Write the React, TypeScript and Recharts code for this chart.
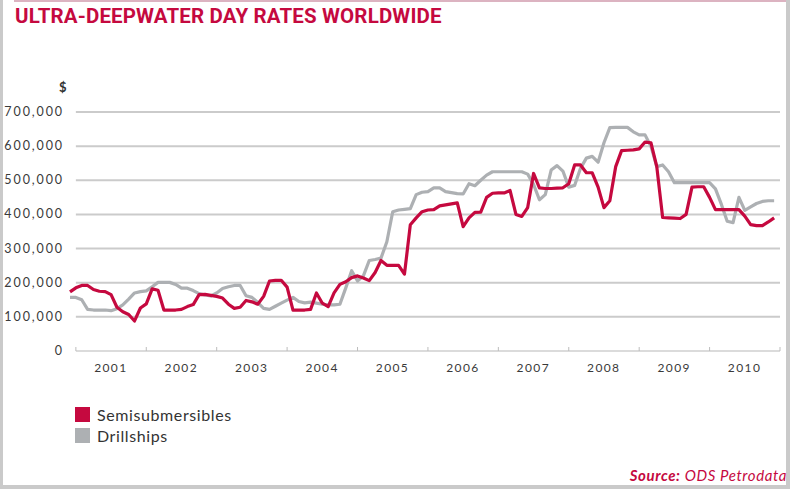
import { LineChart, Line, XAxis, YAxis, ReferenceLine } from 'recharts';

// Monthly day rates in US$ thousands, December 2000 through December 2010
const semisubmersibles = [
  173, 185, 192, 192, 180, 175, 174, 165, 128, 115, 107, 88,
  126, 138, 182, 178, 120, 120, 120, 122, 130, 136, 165, 166,
  163, 160, 155, 137, 125, 128, 148, 144, 137, 160, 205, 207,
  207, 187, 120, 120, 120, 122, 170, 140, 130, 170, 195, 203,
  215, 220, 214, 206, 230, 265, 251, 251, 251, 225, 370, 390,
  408, 413, 414, 425, 428, 431, 434, 364, 390, 406, 407, 450,
  462, 463, 463, 470, 400, 394, 420, 520, 478, 476, 476, 477,
  478, 490, 545, 545, 522, 522, 480, 420, 440, 540, 587, 588,
  589, 592, 612, 610, 540, 391, 390, 389, 388, 400, 480, 481,
  481, 450, 414, 414, 414, 414, 414, 395, 370, 367, 367, 378,
  390,
];

const drillships = [
  157, 157, 150, 122, 120, 120, 120, 118, 124, 135, 152, 170,
  174, 176, 188, 201, 201, 201, 195, 184, 184, 177, 168, 164,
  161, 170, 183, 188, 192, 192, 162, 157, 142, 125, 122, 131,
  140, 149, 157, 145, 141, 143, 140, 137, 135, 135, 137, 185,
  235, 205, 220, 265, 268, 272, 320, 408, 413, 415, 417, 458,
  465, 467, 478, 478, 467, 464, 461, 460, 490, 484, 500, 515,
  525, 525, 525, 525, 525, 525, 518, 488, 443, 458, 530, 543,
  527, 480, 485, 535, 565, 570, 553, 610, 654, 655, 655, 655,
  642, 633, 633, 600, 540, 545, 525, 493, 493, 493, 493, 493,
  493, 493, 475, 430, 380, 376, 450, 412, 422, 432, 438, 440,
  440,
];

const years = [2001, 2002, 2003, 2004, 2005, 2006, 2007, 2008, 2009, 2010, 2011];
const rateTicks = [0, 100000, 200000, 300000, 400000, 500000, 600000, 700000];

const RED = '#c5093f';
const GREY = '#adb0b3';
const FIRST_MONTH = 2000 + 11 / 12;

const data = semisubmersibles.map((s, i) => ({
  t: FIRST_MONTH + i / 12,
  semi: s * 1000,
  drill: drillships[i] * 1000,
}));

const YearTick = (props: any) => {
  const { x, y, payload } = props;
  const half = 35;
  return (
    <g>
      <line x1={x} x2={x} y1={y - 4} y2={y} stroke="#bdbdbd" strokeWidth={1} />
      {payload.value < 2011 && (
        <text x={x + half} y={y + 21} textAnchor="middle" fontSize={12} fill="#3a3a3a"
          style={{ letterSpacing: 1.4 }}>
          {payload.value}
        </text>
      )}
    </g>
  );
};

const RateTick = (props: any) => {
  const { y, payload } = props;
  return (
    <text x={64} y={y + 4} textAnchor="end" fontSize={12.5} fill="#3a3a3a" style={{ letterSpacing: 1.9 }}>
      {payload.value.toLocaleString('en-US')}
    </text>
  );
};

export default function App() {
  return (
    <div style={{
      position: 'absolute', left: 0, top: 0, width: 790, height: 489,
      background: '#fff', overflow: 'hidden', fontFamily: 'Lato, "Open Sans", sans-serif',
    }}>
      {/* frame */}
      <div style={{ position: 'absolute', left: 14, right: 0, top: 0, height: 2, background: '#dcb3c1' }} />
      <div style={{ position: 'absolute', left: 0, top: 0, width: 3, height: 489, background: '#cacaca' }} />
      <div style={{ position: 'absolute', left: 786, top: 0, width: 4, height: 489, background: '#cacaca' }} />
      <div style={{ position: 'absolute', left: 0, top: 485, width: 790, height: 4, background: '#cacaca' }} />

      <div style={{
        position: 'absolute', left: 15, top: 4, fontFamily: 'Roboto, sans-serif', fontWeight: 700,
        fontSize: 20.5, color: RED, whiteSpace: 'nowrap', letterSpacing: 0.15,
      }}>
        ULTRA-DEEPWATER DAY RATES WORLDWIDE
      </div>

      <div style={{ position: 'absolute', left: 59, top: 79, fontSize: 13, fontWeight: 700, color: '#333' }}>$</div>

      <div style={{ position: 'absolute', left: 0, top: 0 }}>
        <LineChart width={790} height={489} data={data} margin={{ top: 112, right: 10, bottom: 108, left: 0 }}>
          <XAxis
            dataKey="t"
            type="number"
            domain={[FIRST_MONTH, 2011]}
            ticks={years}
            tick={<YearTick />}
            axisLine={false}
            tickLine={false}
            tickSize={0}
            tickMargin={0}
            height={30}
            interval={0}
          />
          <YAxis
            domain={[0, 700000]}
            ticks={rateTicks}
            tick={<RateTick />}
            axisLine={false}
            tickLine={false}
            width={70}
            interval={0}
          />
          {rateTicks.map((v) => (
            <ReferenceLine
              key={v}
              segment={[{ x: 2001, y: v }, { x: 2011, y: v }]}
              stroke={v === 0 ? '#cfcfcf' : '#cbcbcb'}
              strokeWidth={v === 0 ? 1.5 : 2}
            />
          ))}
          <Line
            type="linear"
            dataKey="drill"
            name="Drillships"
            stroke={GREY}
            strokeWidth={3.2}
            dot={false}
            strokeLinejoin="round"
            isAnimationActive={false}
          />
          <Line
            type="linear"
            dataKey="semi"
            name="Semisubmersibles"
            stroke={RED}
            strokeWidth={3.2}
            dot={false}
            strokeLinejoin="round"
            isAnimationActive={false}
          />
        </LineChart>
      </div>

      {/* legend */}
      {[{ color: RED, label: 'Semisubmersibles', top: 407 }, { color: GREY, label: 'Drillships', top: 428 }].map((it) => (
        <div key={it.label} style={{ position: 'absolute', left: 75, top: it.top, display: 'flex', alignItems: 'center' }}>
          <div style={{ width: 15, height: 15, background: it.color }} />
          <span style={{ marginLeft: 7, fontSize: 16, color: '#333', lineHeight: '15px', letterSpacing: 0.6 }}>{it.label}</span>
        </div>
      ))}

      <div style={{
        position: 'absolute', right: 3, top: 466, fontSize: 15, fontStyle: 'italic', color: RED,
        whiteSpace: 'nowrap', letterSpacing: 0.6,
      }}>
        <b>Source:</b> ODS Petrodata
      </div>
    </div>
  );
}
